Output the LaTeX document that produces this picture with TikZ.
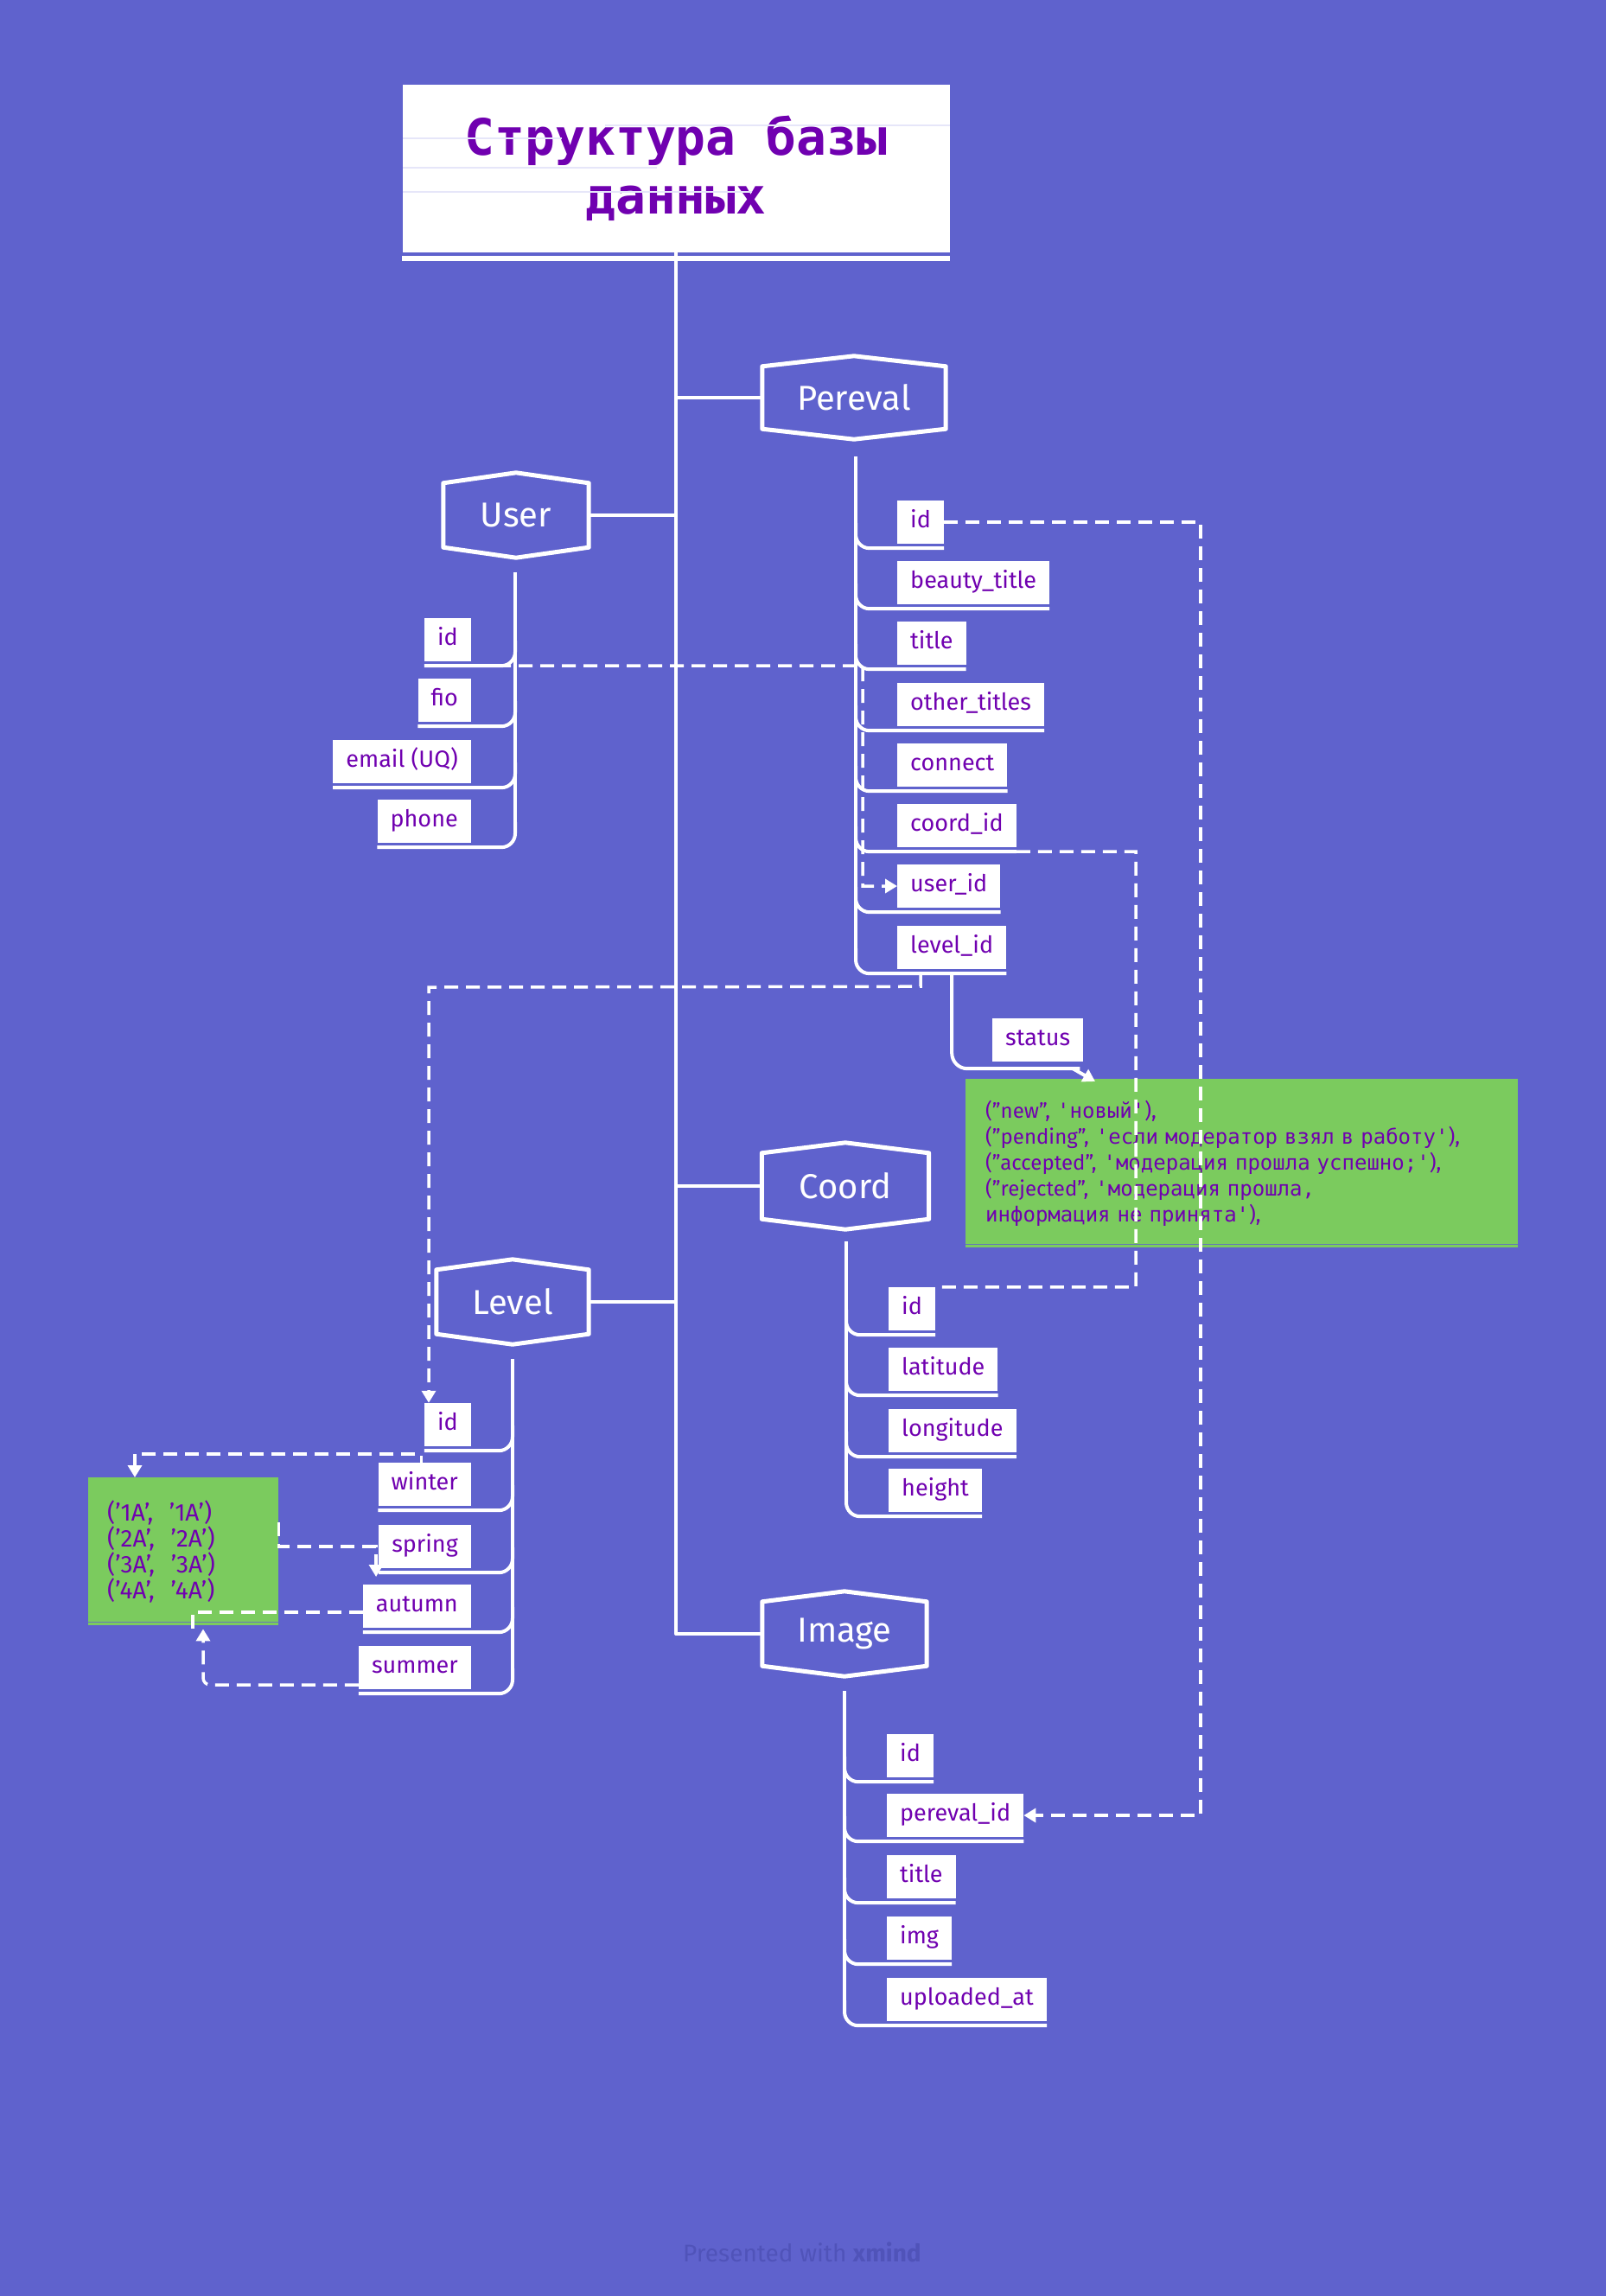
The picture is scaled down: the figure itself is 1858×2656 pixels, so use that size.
\documentclass[tikz,border=0pt]{standalone}
\usepackage{fontspec}
\setmainfont{Fira Sans}
\newfontfamily\titlefont{DejaVu Sans Mono}
\newfontfamily\notemono{DejaVu Sans Mono}
\usetikzlibrary{arrows.meta,calc}

\definecolor{canvasblue}{HTML}{5F62CD}
\definecolor{inkpurple}{HTML}{7000B0}
\definecolor{notegreen}{HTML}{7BCB5E}
\definecolor{footgray}{HTML}{5053B9}
\definecolor{haze}{HTML}{E6E6F9}

% hexagonal frame around a topic node
\newcommand\hexframe[1]{%
  \draw[hexline] ($(#1.north west)+(0,12)$) -- (#1.north) -- ($(#1.north east)+(0,12)$)
    -- ($(#1.south east)+(0,-12)$) -- (#1.south) -- ($(#1.south west)+(0,-12)$) -- cycle;}
% branch from a spine to a field standing on its right / left
\newcommand\rbranch[2]{%
  \draw[wire, rounded corners=16pt] ($(#1 |- #2.south)+(0,-24)$) -- ($(#1 |- #2.south)+(0,5)$) -- ($(#2.south east)+(0,5)$);}
\newcommand\lbranch[2]{%
  \draw[wire, rounded corners=16pt] ($(#1 |- #2.south)+(0,-24)$) -- ($(#1 |- #2.south)+(0,5)$) -- ($(#2.south west)+(0,5)$);}
\newcommand\cyr[1]{{\notemono\fontsize{24}{30}\selectfont #1}}

\tikzset{
  wire/.style={draw=white, line width=4pt, line join=round},
  hexline/.style={draw=white, line width=5pt, line join=round},
  link/.style={draw=white, line width=3.5pt, dash pattern=on 16pt off 9pt},
  tip/.style={-{Triangle[width=16pt,length=14pt]}},
  topic/.style={text=white, font=\fontsize{40}{48}\selectfont, inner sep=0pt},
  field/.style={fill=white, text=inkpurple, font=\fontsize{27}{32}\selectfont,
    minimum height=50pt, inner xsep=15pt, inner ysep=0pt, text height=19pt, text depth=6pt},
  notebox/.style={fill=notegreen, text=inkpurple, align=left, inner ysep=0pt},
}

\begin{document}
\begin{tikzpicture}[x=1pt, y=-1pt]
\useasboundingbox (0,0) rectangle (1858,2656);
\fill[canvasblue] (0,0) rectangle (1858,2656);

% ---------- title ----------
\node[fill=white, minimum width=633pt, minimum height=194pt, inner sep=0pt,
      text=inkpurple, align=center,
      font=\titlefont\bfseries\fontsize{58}{68}\selectfont] (title) at (782,195)
      {Структура базы\\данных};
\draw[haze, line width=1.5pt] (700,145) -- (1099,145);
\draw[haze, line width=1.5pt] (466,160) -- (650,160);
\draw[haze, line width=1.5pt] (466,194) -- (760,194);
\draw[haze, line width=1.5pt] (466,222) -- (870,222);
\draw[white, line width=6pt] ($(title.south west)+(0,7)$) -- ($(title.south east)+(0,7)$);

% ---------- notes ----------
\node[notebox, anchor=north west, minimum height=195pt, text width=593pt, inner xsep=23pt,
      font=\fontsize{24}{30}\selectfont] (stnote) at (1117,1248)
  {\mbox{("new", \cyr{'новый'}),}\\
   \mbox{("pending", \cyr{'если модератор взял в работу'}),}\\
   \mbox{("accepted", \cyr{'модерация прошла успешно;'}),}\\
   \mbox{("rejected", \cyr{'модерация прошла,}}\\
   \mbox{\cyr{информация не принята'}),}};
\draw[canvasblue!80!notegreen, line width=1pt] ($(stnote.south west)+(0,-4)$) -- ($(stnote.south east)+(0,-4)$);

\node[notebox, anchor=north west, minimum height=171pt, text width=176pt, inner xsep=22pt,
      font=\fontsize{28}{30}\selectfont] (lnote) at (102,1709)
  {('1A',\ \ '1A')\\('2A',\ \ '2A')\\('3A',\ \ '3A')\\('4A',\ \ '4A')};
\draw[canvasblue!80!notegreen, line width=1pt] ($(lnote.south west)+(0,-4)$) -- ($(lnote.south east)+(0,-4)$);

% ---------- topics ----------
\node[topic, minimum width=212pt, minimum height=96pt] (pereval) at (988,460) {Pereval};
\node[topic, minimum width=168pt, minimum height=98pt] (user) at (597,596) {User};
\node[topic, minimum width=193pt, minimum height=100pt] (coord) at (978,1372) {Coord};
\node[topic, minimum width=176pt, minimum height=98pt] (level) at (593,1506) {Level};
\node[topic, minimum width=190pt, minimum height=98pt] (image) at (977,1890) {Image};
\foreach \t in {pereval,user,coord,level,image} {\hexframe{\t}}

% ---------- trunk ----------
\draw[wire] (title.south) |- (image.west);
\draw[wire] (pereval.west) -- (pereval.west -| title.south);
\draw[wire] (coord.west) -- (coord.west -| title.south);
\draw[wire] (user.east) -- (user.east -| title.south);
\draw[wire] (level.east) -- (level.east -| title.south);

% ---------- fields ----------
\foreach \nm/\lab/\yy in {p-id/id/604, p-beauty/beauty\_title/674, p-title/title/744,
    p-other/other\_titles/815, p-connect/connect/885, p-coord/coord\_id/955,
    p-user/user\_id/1025, p-level/level\_id/1096}
  {\node[field, anchor=west] (\nm) at (1038,\yy) {\lab};}
\foreach \nm/\lab/\yy in {u-id/id/740, u-fio/fio/810, u-email/email (UQ)/881, u-phone/phone/950}
  {\node[field, anchor=east] (\nm) at (545,\yy) {\lab};}
\foreach \nm/\lab/\yy in {c-id/id/1514, c-lat/latitude/1584, c-lon/longitude/1655, c-height/height/1724}
  {\node[field, anchor=west] (\nm) at (1028,\yy) {\lab};}
\foreach \nm/\lab/\yy in {l-id/id/1648, l-winter/winter/1717, l-spring/spring/1789,
    l-autumn/autumn/1858, l-summer/summer/1929}
  {\node[field, anchor=east] (\nm) at (545,\yy) {\lab};}
\foreach \nm/\lab/\yy in {i-id/id/2031, i-pid/pereval\_id/2100, i-title/title/2171,
    i-img/img/2242, i-up/uploaded\_at/2313}
  {\node[field, anchor=west] (\nm) at (1026,\yy) {\lab};}
\node[field, anchor=west] (status) at (1148,1203) {status};

% ---------- spines and branches ----------
\coordinate (pspine) at ($(pereval.south)+(2,20)$);
\coordinate (uspine) at ($(user.south)+(-1,17)$);
\coordinate (cspine) at ($(coord.south)+(1,14)$);
\coordinate (lspine) at ($(level.south)+(0,17)$);
\coordinate (ispine) at ($(image.south)+(0,17)$);
\draw[wire] (pspine) -- ($(pspine |- p-level.south)+(0,-20)$);
\draw[wire] (uspine) -- ($(uspine |- u-phone.south)+(0,-20)$);
\draw[wire] (cspine) -- ($(cspine |- c-height.south)+(0,-20)$);
\draw[wire] (lspine) -- ($(lspine |- l-summer.south)+(0,-20)$);
\draw[wire] (ispine) -- ($(ispine |- i-up.south)+(0,-20)$);
\foreach \f in {p-id,p-beauty,p-title,p-other,p-connect,p-coord,p-user,p-level} {\rbranch{pspine}{\f}}
\foreach \f in {u-id,u-fio,u-email,u-phone} {\lbranch{uspine}{\f}}
\foreach \f in {c-id,c-lat,c-lon,c-height} {\rbranch{cspine}{\f}}
\foreach \f in {l-id,l-winter,l-spring,l-autumn,l-summer} {\lbranch{lspine}{\f}}
\foreach \f in {i-id,i-pid,i-title,i-img,i-up} {\rbranch{ispine}{\f}}

% status branch into its note
\draw[wire, rounded corners=18pt] ($(p-level.south)+(0,5)$) |- ($(status.south east)+(-4,8)$);
\draw[wire, -{Triangle[width=16pt,length=14pt]}] ($(status.south east)+(-12,8)$) -- ($(stnote.north west)+(150,3)$);

% ---------- relations ----------
\coordinate (prail) at (1389,604);
\draw[link, tip] (p-id.east) -- (p-id.east -| prail) -- (prail |- i-pid.east) -- (i-pid.east);
\coordinate (crail) at (1314,985);
\draw[link] ($(p-coord.south east)+(0,5)$) -- (crail) -- (crail |- c-id.north) -- (c-id.north east);
\coordinate (urail) at (998,770);
\draw[link, tip] ($(u-id.south east)+(5,5)$) -- (urail) -- (urail |- p-user.west) -- (p-user.west);
\coordinate (lrail) at (496,1142);
\draw[link, tip] ($(p-level.south west)+(27,5)$) -- ($(p-level.south west)+(27,20)$) -- (lrail) -- (lrail |- l-id.north);
\draw[link, tip] ($(l-winter.north west)+(50,8)$) -- ($(l-winter.north west)+(50,-10)$) -| ($(lnote.north west)+(54,0)$);
\draw[link, tip] ($(lnote.north east)+(0,52)$) |- ($(l-spring.west)+(-3,0)$) -- ($(l-spring.west)+(-3,35)$);
\draw[link] ($(l-autumn.west)+(0,7)$) -| ($(lnote.south west)+(121,10)$);
\draw[link, tip, rounded corners=8pt] ($(l-summer.west)+(0,20)$) -| ($(lnote.south west)+(133,4)$);

% ---------- footer ----------
\node[text=footgray, font=\fontsize{28}{34}\selectfont] (footer) at (928,2605) {Presented with \textbf{xmind}};
\end{tikzpicture}
\end{document}
